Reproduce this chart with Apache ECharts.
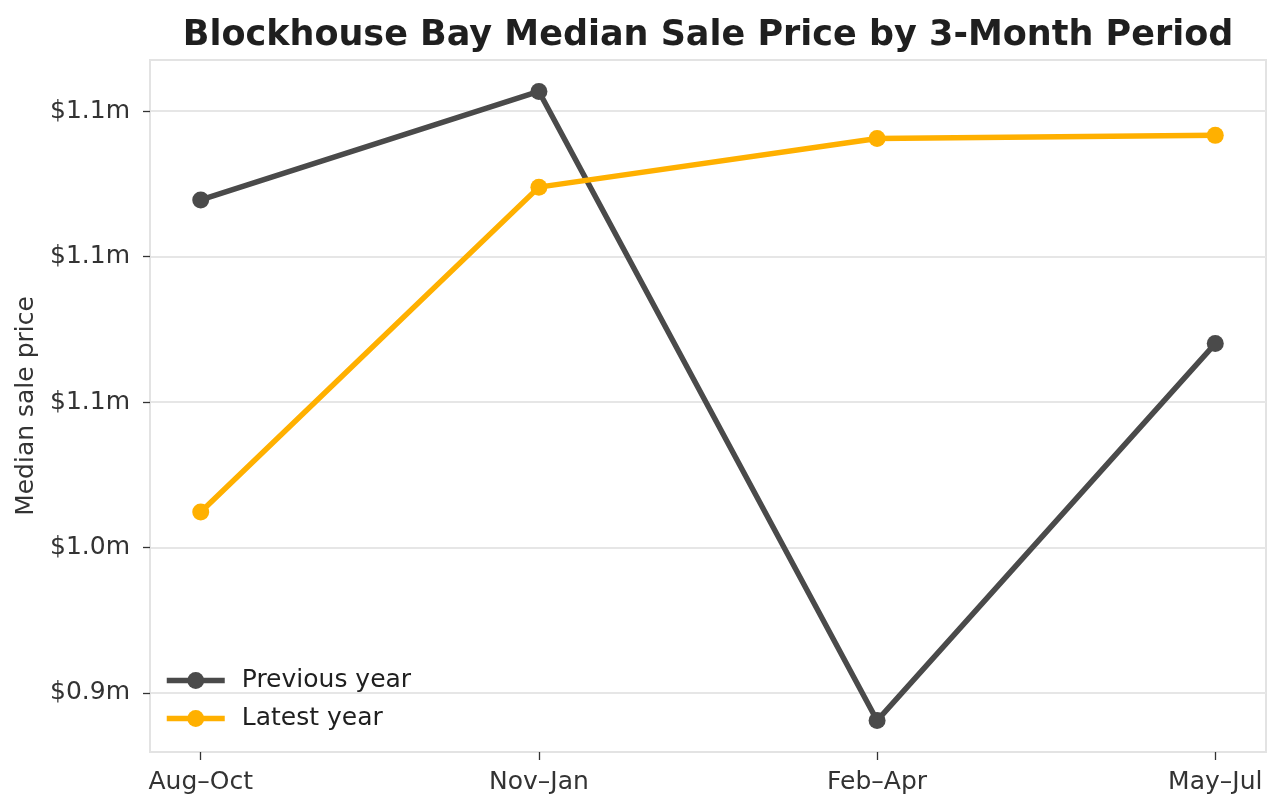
<!DOCTYPE html>
<html>
<head>
<meta charset="utf-8">
<script src="https://cdn.jsdelivr.net/npm/echarts@6/dist/echarts.min.js"></script>
<style>html,body{margin:0;padding:0;background:#fff}#chart{width:1283px;height:812px}</style>
</head>
<body>
<div id="chart"></div>
<script>
const categories = ['Aug–Oct', 'Nov–Jan', 'Feb–Apr', 'May–Jul'];
const previousYear = [1119500, 1156800, 940500, 1070100];
const latestYear = [1012200, 1123900, 1140600, 1141700];
const yTickValues = [950000, 1000000, 1050000, 1100000, 1150000];
const yTickLabels = ['$0.9m', '$1.0m', '$1.1m', '$1.1m', '$1.1m'];

const allVals = previousYear.concat(latestYear);
const dMin = Math.min.apply(null, allVals), dMax = Math.max.apply(null, allVals);
const pad = (dMax - dMin) * 0.05;
const xIdx = categories.map((c, i) => i);

const FONT = 'DejaVu Sans';
const chart = echarts.init(document.getElementById('chart'), null, {renderer: 'canvas'});
chart.setOption({
  animation: false,
  backgroundColor: '#ffffff',
  textStyle: {fontFamily: FONT},
  title: {
    text: 'Blockhouse Bay Median Sale Price by 3-Month Period',
    left: 703, top: 13, textAlign: 'center',
    textStyle: {fontFamily: FONT, fontSize: 35, fontWeight: 'bold', color: '#1f1f1f'}
  },
  grid: {left: 150, right: 17, top: 60, bottom: 60, show: true, borderColor: '#e3e3e3', borderWidth: 2, backgroundColor: 'transparent'},
  legend: {
    left: 159, top: 663, orient: 'vertical', itemGap: 13, itemWidth: 58, itemHeight: 21,
    lineStyle: {width: 5.5},
    textStyle: {fontFamily: FONT, fontSize: 25, color: '#1f1f1f', padding: [0, 0, 0, 12]},
    data: ['Previous year', 'Latest year']
  },
  xAxis: {
    type: 'value', min: -0.15, max: 3.15,
    axisLine: {show: true, onZero: false, lineStyle: {color: '#e3e3e3', width: 2}},
    axisTick: {show: true, customValues: xIdx, length: 8, lineStyle: {color: '#333', width: 1.3}},
    axisLabel: {customValues: xIdx, formatter: v => categories[Math.round(v)], fontFamily: FONT, fontSize: 25, color: '#333', margin: 18},
    splitLine: {show: false}
  },
  yAxis: {
    type: 'value', min: dMin - pad, max: dMax + pad,
    name: 'Median sale price', nameLocation: 'middle', nameGap: 104,
    nameTextStyle: {fontFamily: FONT, fontSize: 25, color: '#333'},
    axisLine: {show: true, onZero: false, lineStyle: {color: '#e3e3e3', width: 2}},
    axisTick: {show: true, customValues: yTickValues, length: 7, lineStyle: {color: '#333', width: 1.3}},
    axisLabel: {customValues: yTickValues, formatter: v => yTickLabels[yTickValues.indexOf(v)], fontFamily: FONT, fontSize: 25, color: '#333', margin: 20},
    splitLine: {show: true, lineStyle: {color: '#e6e6e6', width: 2}}
  },
  series: [
    {
      name: 'Previous year', type: 'line', data: previousYear.map((v, i) => [i, v]),
      symbol: 'circle', symbolSize: 17,
      lineStyle: {color: '#4a4a4a', width: 5.5}, itemStyle: {color: '#4a4a4a'}
    },
    {
      name: 'Latest year', type: 'line', data: latestYear.map((v, i) => [i, v]),
      symbol: 'circle', symbolSize: 17,
      lineStyle: {color: '#ffb000', width: 5.5}, itemStyle: {color: '#ffb000'}
    }
  ]
});
</script>
</body>
</html>
